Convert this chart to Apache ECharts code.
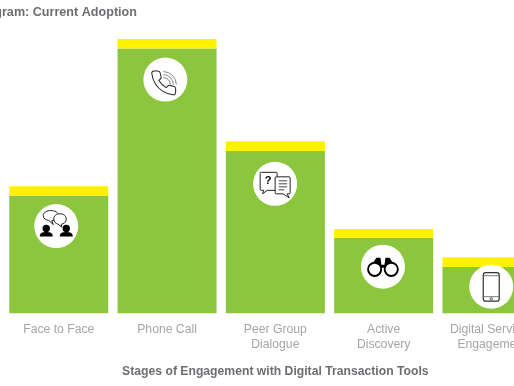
<!DOCTYPE html>
<html>
<head>
<meta charset="utf-8">
<style>
  html, body { margin: 0; padding: 0; background: #fff; overflow: hidden; }
  #chart { width: 514px; height: 386px; }
</style>
<script src="https://cdn.jsdelivr.net/npm/echarts@6/dist/echarts.min.js"></script>
</head>
<body>
<div id="chart"></div>
<script>
const categories = ['Face to Face', 'Phone Call', 'Peer Group\nDialogue', 'Active\nDiscovery', 'Digital Services\nEngagement'];
const adoption = [42.8, 96.5, 59.2, 27.5, 16.9];
const topBand = [3.5, 3.5, 3.5, 3.2, 3.5];
// height of each icon badge on the same value scale
const badgeAt = [31.8, 85.2, 47.2, 17, 9.7];
const badgeShift = [-2.5, -1.7, -0.2, -0.7, -0.7];

const titleText = 'Diagram: Current Adoption';
const axisTitle = 'Stages of Engagement with Digital Transaction Tools';

const DARK = '#222';

function raw(pathData, stroke, width, fill) {
    return { type: 'path', shape: { pathData: pathData }, style: { stroke: stroke || DARK, lineWidth: width || 1, fill: fill || 'none' } };
}

function person(x) {
    return [
        { type: 'circle', shape: { cx: x, cy: 2.5, r: 3.7 }, style: { fill: '#000' } },
        raw('M' + (x - 6.5) + ' 10.5 C' + (x - 6.5) + ' 6.5 ' + (x - 3) + ' 6 ' + x + ' 6 C' + (x + 3) + ' 6 ' + (x + 6.5) + ' 6.5 ' + (x + 6.5) + ' 10.5 Z', 'none', 0, '#000')
    ];
}

const icons = [
    function () {
        return person(-10).concat(person(10)).concat([
            raw('M-13 -10.5 C-13 -14 -9 -15.5 -5.5 -15.5 C-1.5 -15.5 2 -14 2 -10.5 C2 -7 -1.5 -5.5 -4.5 -5.5 L-3 -1.5 L-7.5 -5.7 C-10.5 -6 -13 -7.5 -13 -10.5 Z', DARK, 1, '#fff'),
            raw('M-2.5 -7 C-2.5 -10.5 0.5 -12.3 3.5 -12.3 C7 -12.3 10 -10.5 10 -7 C10 -4 7.5 -2 5 -1.8 L5.5 1 L1.5 -2 C-0.5 -2.5 -2.5 -4.5 -2.5 -7 Z', DARK, 1, '#fff')
        ]);
    },
    function () {
        return [
            {
                type: 'path',
                x: -16.1, y: -11.1, scaleX: 1.2, scaleY: 1.2,
                shape: { pathData: 'M22 16.92v3a2 2 0 0 1-2.18 2 19.79 19.79 0 0 1-8.63-3.07 19.5 19.5 0 0 1-6-6 19.79 19.79 0 0 1-3.07-8.67A2 2 0 0 1 4.11 2h3a2 2 0 0 1 2 1.72 12.84 12.84 0 0 0 .7 2.81 2 2 0 0 1-.45 2.11L8.09 9.91a16 16 0 0 0 6 6l1.27-1.27a2 2 0 0 1 2.11-.45 12.84 12.84 0 0 0 2.81.7A2 2 0 0 1 22 16.92z' },
                style: { stroke: DARK, lineWidth: 0.85, fill: 'none' }
            },
            raw('M-2 -2 A7 7 0 0 1 5 5', '#888', 1),
            raw('M-2 -5 A10 10 0 0 1 8 5', '#888', 1),
            raw('M-2 -8 A13 13 0 0 1 11 5', '#888', 1)
        ];
    },
    function () {
        return [
            raw('M-14 -11.5 L1 -11.5 Q2 -11.5 2 -10.5 L2 5 Q2 6.5 1 6.5 L-8 6.5 L-12.5 10 L-11.5 6.5 L-14 6.5 Q-15 6.5 -15 5 L-15 -10.5 Q-15 -11.5 -14 -11.5 Z', DARK, 1, '#fff'),
            { type: 'text', style: { text: '?', x: -7, y: -3, align: 'center', verticalAlign: 'middle', fill: '#000', font: 'bold 11px "Liberation Sans"' } },
            raw('M1 -7 L14 -7 Q15 -7 15 -6 L15 9 Q15 10 14 10 L12 10 L14 14 L8 10 L1 10 Q0 10 0 9 L0 -6 Q0 -7 1 -7 Z', DARK, 1, '#fff'),
            raw('M3.5 -3 L12 -3 M3.5 0 L12 0 M3.5 3 L12 3 M3.5 6 L9 6', '#444', 1)
        ];
    },
    function () {
        return [
            raw('M-6.5 -9 L-2.5 -9 L-1.5 -2 L1.5 -2 L2.5 -9 L6.5 -9 L12 -1 L13 3 L3 3 L2 1 L-2 1 L-3 3 L-13 3 L-12 -1 Z', 'none', 0, '#000'),
            { type: 'circle', shape: { cx: -8.3, cy: 2.7, r: 6.6 }, style: { fill: '#fff', stroke: '#000', lineWidth: 1.9 } },
            { type: 'circle', shape: { cx: 8.3, cy: 2.7, r: 6.6 }, style: { fill: '#fff', stroke: '#000', lineWidth: 1.9 } }
        ];
    },
    function () {
        return [
            { type: 'rect', shape: { x: -8, y: -14, width: 16, height: 28.5, r: 2.5 }, style: { fill: '#fff', stroke: '#333', lineWidth: 1.2 } },
            raw('M-8 -11 L8 -11 M-8 10 L8 10', '#555', 0.8),
            { type: 'circle', shape: { cx: 0, cy: 12.1, r: 1.2 }, style: { fill: '#fff', stroke: '#333', lineWidth: 0.8 } }
        ];
    }
];

const chart = echarts.init(document.getElementById('chart'), null, { renderer: 'canvas' });

chart.setOption({
    animation: false,
    backgroundColor: '#fff',
    title: {
        text: titleText,
        right: 377,
        top: 6,
        padding: 0,
        textStyle: { color: '#6d6e71', fontFamily: 'Liberation Sans', fontWeight: 'bold', fontSize: 12.6 }
    },
    grid: { left: 4.6, top: 39, width: 541.5, height: 274.3, containLabel: false, outerBoundsMode: 'none' },
    xAxis: {
        type: 'category',
        data: categories,
        axisLine: { show: false },
        axisTick: { show: false },
        axisLabel: {
            interval: 0,
            margin: 9,
            color: '#a3a5a8',
            fontFamily: 'Liberation Sans',
            fontSize: 12.2,
            lineHeight: 15,
            hideOverlap: false
        },
        name: axisTitle,
        nameLocation: 'middle',
        nameGap: 52,
        nameTextStyle: { color: '#6d6e71', fontFamily: 'Liberation Sans', fontWeight: 'bold', fontSize: 12.2 }
    },
    yAxis: { type: 'value', min: 0, max: 100, show: false },
    series: [
        {
            type: 'bar',
            stack: 'total',
            data: adoption,
            barWidth: 99,
            itemStyle: { color: '#8cc63f' }
        },
        {
            type: 'bar',
            stack: 'total',
            data: topBand,
            barWidth: 99,
            itemStyle: { color: '#fff200' }
        },
        {
            type: 'custom',
            data: badgeAt.map((v, i) => [i, v]),
            encode: { x: 0, y: 1 },
            clip: false,
            z: 5,
            renderItem: function (params, api) {
                const p = api.coord([api.value(0), api.value(1)]);
                const i = params.dataIndex;
                return {
                    type: 'group',
                    x: p[0] + badgeShift[i],
                    y: p[1],
                    children: [
                        { type: 'circle', shape: { cx: 0, cy: 0, r: 22 }, style: { fill: '#fff' } }
                    ].concat(icons[i]())
                };
            }
        }
    ]
});
</script>
</body>
</html>
